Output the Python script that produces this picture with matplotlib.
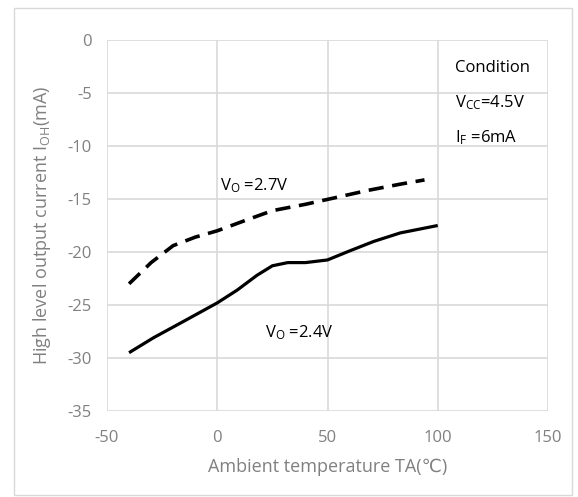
import matplotlib
matplotlib.use("Agg")
import matplotlib.pyplot as plt
from matplotlib.patches import Rectangle

plt.rcParams['font.family'] = ['Open Sans', 'DejaVu Sans']
plt.rcParams['mathtext.fontset'] = 'custom'
plt.rcParams['mathtext.rm'] = 'Open Sans'
plt.rcParams['mathtext.it'] = 'Open Sans'
plt.rcParams['axes.unicode_minus'] = False

# Data
temp_27 = [-40, -30, -20, -10, 0, 13, 25, 40, 53, 68, 83, 94]
ioh_27 = [-23.0, -21.0, -19.4, -18.6, -18.0, -17.0, -16.1, -15.5, -14.9, -14.2, -13.6, -13.2]
temp_24 = [-40, -29, -14, 0, 9, 18, 25, 32, 40, 50, 60, 71, 83, 100]
ioh_24 = [-29.5, -28.1, -26.4, -24.8, -23.6, -22.2, -21.3, -21.0, -21.0, -20.75, -19.9, -19.0, -18.2, -17.5]
xticks = [-50, 0, 50, 100, 150]
yticks = [0, -5, -10, -15, -20, -25, -30, -35]

fig = plt.figure(figsize=(5.78, 4.97), dpi=100)
fig.patches.append(Rectangle((14/578, 1-495/497), (572-14)/578, (495-8)/497,
                             transform=fig.transFigure, fill=False,
                             edgecolor='#d9d9d9', linewidth=1.0))
ax = fig.add_axes([107/578, 1-411/497, 441/578, 371/497])

ax.plot(temp_24, ioh_24, color='black', linewidth=2.3, solid_capstyle='butt',
        solid_joinstyle='round')
ax.plot(temp_27, ioh_27, color='black', linewidth=2.6, dashes=(4.2, 2.4),
        dash_joinstyle='round')

ax.set_xlim(-50, 150)
ax.set_ylim(-35, 0)
ax.set_xticks(xticks)
ax.set_yticks(yticks)
ax.grid(True, color='#d9d9d9', linewidth=1.2)
ax.set_axisbelow(True)
for s in ax.spines.values():
    s.set_visible(False)
ax.tick_params(axis='x', length=0, labelsize=12, colors='#808080', pad=14)
ax.tick_params(axis='y', length=0, labelsize=12, colors='#808080', pad=11)

ax.set_xlabel('Ambient temperature TA(℃)', fontsize=13, color='#808080', labelpad=8)
ax.set_ylabel(r'High level output current I$_{\mathrm{OH}}$(mA)', fontsize=13,
              color='#808080', labelpad=10)

tkw = dict(fontsize=12, color='black', va='center', ha='left')
ax.text(107.8, -2.64, 'Condition', **tkw)
ax.text(107.8, -5.94, r'V$_{\mathrm{CC}}$=4.5V', **tkw)
ax.text(107.8, -9.25, r'I$_{\mathrm{F}}$ =6mA', **tkw)
ax.text(1.2, -13.7, r'V$_{\mathrm{O}}$ =2.7V', **tkw)
ax.text(21.6, -27.6, r'V$_{\mathrm{O}}$ =2.4V', **tkw)

fig.savefig('out.png', dpi=100)
